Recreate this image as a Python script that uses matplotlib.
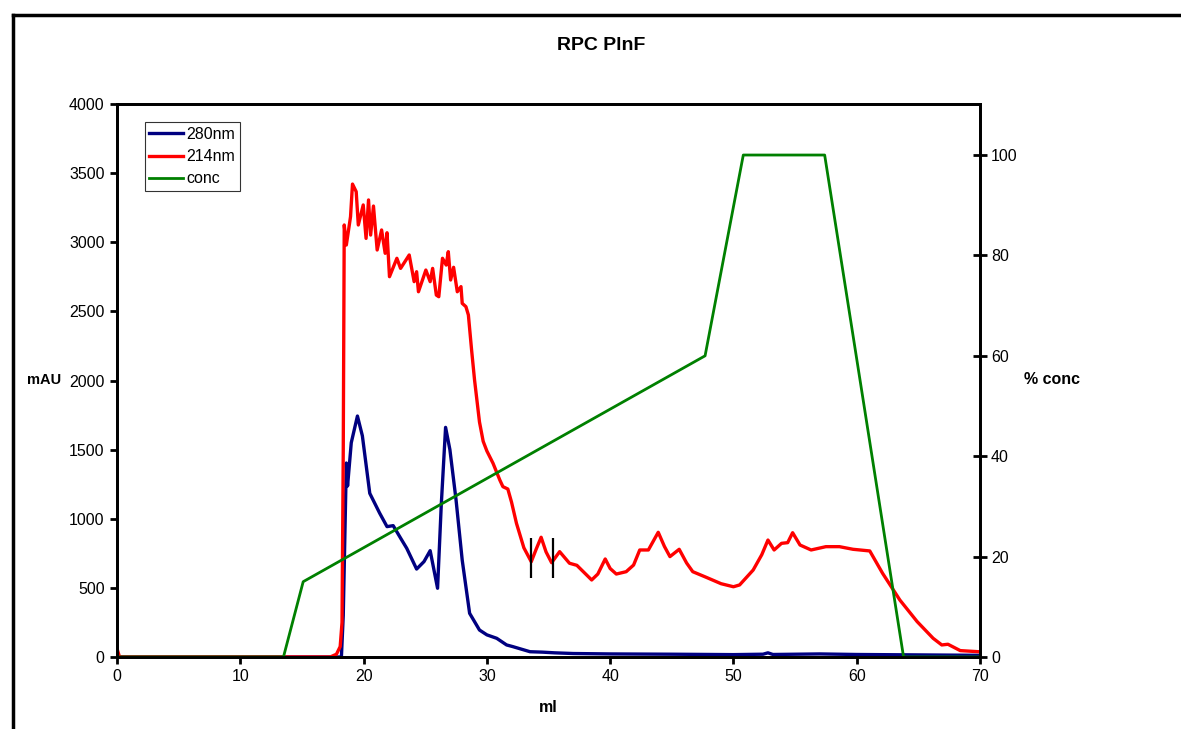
import matplotlib.pyplot as plt
from matplotlib.lines import Line2D

plt.rcParams["font.family"] = ["Liberation Sans", "DejaVu Sans"]

# 280nm trace (ml, mAU)
ml_280 = [0, 18.2, 18.35, 18.6, 18.7, 19.0, 19.5, 19.9, 20.5, 21.3, 21.9, 22.4, 23.0, 23.5,
          24.3, 24.9, 25.4, 26.0, 26.3, 26.65, 27.0, 27.5, 28.0, 28.6, 29.4, 30.0, 30.8,
          31.6, 32.1, 33.5, 34.5, 35.5, 37, 40, 45, 50, 52.4, 52.8, 53.2, 57, 60, 65, 70]
a280 = [0, 0, 300, 1403, 1237, 1550, 1743, 1600, 1184, 1041, 943, 950, 860, 786,
        636, 690, 769, 497, 1100, 1661, 1500, 1136, 700, 316, 195, 160, 135,
        87, 75, 38, 35, 30, 25, 22, 20, 17, 20, 30, 18, 22, 18, 15, 12]

# 214nm trace (ml, mAU)
ml_214 = [0, 0.2, 17.3, 17.8, 18.1, 18.25, 18.35, 18.43, 18.6, 18.94, 19.1, 19.4, 19.57,
          19.97, 20.2, 20.4, 20.57, 20.8, 21.1, 21.46, 21.75, 21.9, 22.1, 22.7, 23.0,
          23.7, 24.1, 24.3, 24.45, 25.05, 25.4, 25.6, 25.9, 26.1, 26.4, 26.7, 26.87,
          27.06, 27.3, 27.6, 27.9, 28.0, 28.3, 28.5, 28.76, 29.0, 29.4, 29.7, 30.0, 30.5,
          31.05, 31.3, 31.7, 32.0, 32.4, 33.0, 33.6, 34.0, 34.4, 34.8, 35.25, 35.9, 36.7,
          37.3, 37.9, 38.5, 39.0, 39.6, 40.0, 40.5, 41.3, 41.9, 42.4, 43.1, 43.9, 44.4,
          44.85, 45.6, 46.2, 46.7, 47.8, 49.0, 50.0, 50.5, 51.6, 52.3, 52.8, 53.3, 53.9,
          54.4, 54.8, 55.4, 56.3, 57.5, 58.6, 59.7, 61.06, 62.1, 63.5, 64.9, 66.2, 66.9,
          67.4, 68.4, 69.9]
a214 = [60, 0, 0, 20, 75, 250, 1500, 3125, 2980, 3185, 3421, 3366, 3125,
        3270, 3028, 3306, 3052, 3262, 2944, 3089, 2920, 3069, 2751, 2884, 2811,
        2908, 2715, 2787, 2642, 2799, 2715, 2811, 2618, 2606, 2884, 2835, 2932,
        2727, 2819, 2642, 2679, 2558, 2534, 2474, 2221, 2004, 1700, 1560, 1490, 1401,
        1280, 1232, 1215, 1120, 967, 790, 689, 780, 866, 760, 682, 762, 678,
        663, 610, 557, 600, 709, 640, 600, 617, 665, 774, 774, 902, 800,
        726, 779, 680, 617, 576, 530, 508, 521, 629, 740, 846, 774, 822,
        827, 899, 810, 774, 798, 798, 779, 767, 605, 412, 256, 135, 87,
        92, 46, 38]

# gradient (ml, % conc)
ml_conc = [0, 13.5, 15.1, 47.7, 50.8, 57.4, 63.8, 70]
conc = [0, 0, 15, 60, 100, 100, 0, 0]

# fraction marks
frac_ml = [33.6, 35.4]
frac_lo, frac_hi = 570, 860

fig = plt.figure(figsize=(11.81, 7.29), dpi=100)
ax = fig.add_axes([0.0991, 0.0988, 0.7307, 0.7585])
ax2 = ax.twinx()

h1, = ax.plot(ml_280, a280, color="#000080", lw=2.4, label="280nm")
h2, = ax.plot(ml_214, a214, color="#ff0000", lw=2.4, label="214nm")
ax.vlines(frac_ml, frac_lo, frac_hi, color="black", lw=1.6)
h3, = ax2.plot(ml_conc, conc, color="#008000", lw=2.0, label="conc")

ax.set_xlim(0, 70)
ax.set_ylim(0, 4000)
ax.set_xticks(range(0, 71, 10))
ax.set_yticks(range(0, 4001, 500))
ax2.set_ylim(0, 110.16)
ax2.set_yticks(range(0, 101, 20))

for a in (ax, ax2):
    for s in a.spines.values():
        s.set_linewidth(2)
        s.set_color("black")
ax.tick_params(axis="both", direction="out", length=5, width=2, labelsize=11.5, pad=4)
ax2.tick_params(axis="y", direction="inout", length=10, width=2, labelsize=11.5, pad=3)

leg = ax.legend(handles=[h1, h2, h3], loc="upper left", bbox_to_anchor=(0.032, 0.967),
                fontsize=11.5, frameon=True, fancybox=False, borderaxespad=0,
                handlelength=2.1, handletextpad=0.2, labelspacing=0.45, borderpad=0.3)
leg.get_frame().set_edgecolor("black")
leg.get_frame().set_linewidth(0.8)

fig.text(0.509, 1 - 45 / 729, "RPC PlnF", ha="center", va="center", fontsize=14, fontweight="bold")
fig.text(44 / 1181, 1 - 380 / 729, "mAU", ha="center", va="center", fontsize=10.5, fontweight="bold")
fig.text(1052 / 1181, 1 - 380 / 729, "% conc", ha="center", va="center", fontsize=11.5, fontweight="bold")
fig.text(548 / 1181, 1 - 708 / 729, "ml", ha="center", va="center", fontsize=11.5, fontweight="bold")

# chart area frame (left and top edges)
fig.add_artist(Line2D([12.5 / 1181, 12.5 / 1181], [0, 1 - 14.5 / 729], transform=fig.transFigure, color="black", lw=2.5))
fig.add_artist(Line2D([12.5 / 1181, 1], [1 - 14.5 / 729, 1 - 14.5 / 729], transform=fig.transFigure, color="black", lw=2.5))

fig.savefig("out.png", dpi=100)
